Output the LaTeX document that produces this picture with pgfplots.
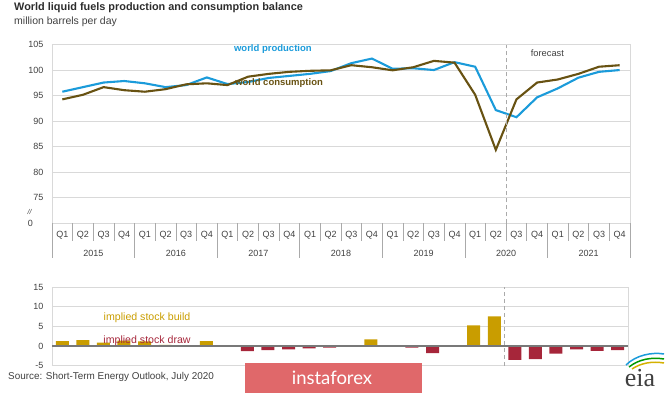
\documentclass[border=0pt]{standalone}
\usepackage{pgfplots}
\pgfplotsset{compat=1.18}
\usepackage{pgfplotstable}
\usepackage{fontspec}
\setmainfont{Liberation Sans}
\newfontfamily\eiafont{Liberation Serif}
\newfontfamily\latofont{Lato}
\definecolor{prodblue}{RGB}{27,155,218}
\definecolor{consbrown}{RGB}{104,82,18}
\definecolor{buildgold}{RGB}{201,157,0}
\definecolor{drawred}{RGB}{166,38,58}
\definecolor{gridgray}{RGB}{217,217,217}
\definecolor{sepgray}{RGB}{170,170,170}
\definecolor{textgray}{RGB}{64,64,64}
\definecolor{titlegray}{RGB}{45,45,45}
\definecolor{zerogray}{RGB}{120,120,120}
\definecolor{instared}{RGB}{224,104,106}

\pgfplotstableread{
x    prod   cons   build draw
0.5  95.8   94.3   1.3   0
1.5  96.7   95.2   1.5   0
2.5  97.6   96.7   0.9   0
3.5  97.9   96.1   1.4   0
4.5  97.45  95.8   1.2   0
5.5  96.7   96.3   0.3   0
6.5  97.1   97.25  0     -0.1
7.5  98.6   97.45  1.3   0
8.5  97.3   97.1   0     -0.1
9.5  97.7   98.75  0     -1.3
10.5 98.5   99.3   0     -1.0
11.5 98.9   99.7   0     -0.85
12.5 99.3   99.9   0     -0.6
13.5 99.85  100.0  0     -0.4
14.5 101.4  101.0  0.2   0
15.5 102.3  100.6  1.7   0
16.5 100.3  100.0  0     -0.05
17.5 100.4  100.6  0     -0.4
18.5 100.05 101.85 0     -1.8
19.5 101.6  101.5  0     0
20.5 100.7  95.2   5.3   0
21.5 92.2   84.4   7.6   0
22.5 90.8   94.3   0     -3.5
23.5 94.7   97.6   0     -3.3
24.5 96.45  98.2   0     -1.9
25.5 98.55  99.3   0     -0.85
26.5 99.7   100.7  0     -1.2
27.5 100.05 101.0  0     -1.0
}\datatable

\begin{document}
\begin{tikzpicture}[x=1pt,y=1pt]
\useasboundingbox (0,0) rectangle (665,394);
\node[anchor=west, font=\bfseries\fontsize{10.9}{12}\selectfont, text=titlegray, inner sep=0] at (14,386) {World liquid fuels production and consumption balance};
\node[anchor=west, font=\fontsize{10.5}{12}\selectfont, text=textgray, inner sep=0] at (14,372) {million barrels per day};

\begin{axis}[at={(52pt,170.7pt)}, anchor=south west, scale only axis,
  width=578pt, height=178.5pt,
  xmin=0, xmax=28, ymin=70, ymax=105,
  ytick={75,80,...,105},
  xtick={0.5,1.5,...,27.5},
  xticklabels={Q1,Q2,Q3,Q4,Q1,Q2,Q3,Q4,Q1,Q2,Q3,Q4,Q1,Q2,Q3,Q4,Q1,Q2,Q3,Q4,Q1,Q2,Q3,Q4,Q1,Q2,Q3,Q4},
  xtick style={draw=none}, ytick style={draw=none},
  ymajorgrids, grid style={gridgray, line width=0.8pt},
  axis line style={gridgray, line width=0.8pt},
  tick label style={font=\fontsize{9}{10}\selectfont, text=textgray},
  /pgf/number format/assume math mode=true,
  xticklabel style={anchor=center, yshift=-11.7pt},
  yticklabel style={xshift=-5pt},
  clip=false]
\addplot[prodblue, line width=2.1pt] table[x=x,y=prod] {\datatable};
\addplot[consbrown, line width=2.1pt] table[x=x,y=cons] {\datatable};
\pgfplotsinvokeforeach{1,2,3,5,6,7,9,10,11,13,14,15,17,18,19,21,22,23,25,26,27}{
  \draw[sepgray, line width=0.7pt] (axis cs:#1,70) -- ++(0pt,-17.5pt);
}
\pgfplotsinvokeforeach{0,4,8,12,16,20,24,28}{
  \draw[sepgray, line width=0.7pt] (axis cs:#1,70) -- ++(0pt,-35pt);
}
\node[font=\fontsize{9}{10}\selectfont, text=textgray, yshift=-30pt] at (axis cs:2,70) {2015};
\node[font=\fontsize{9}{10}\selectfont, text=textgray, yshift=-30pt] at (axis cs:6,70) {2016};
\node[font=\fontsize{9}{10}\selectfont, text=textgray, yshift=-30pt] at (axis cs:10,70) {2017};
\node[font=\fontsize{9}{10}\selectfont, text=textgray, yshift=-30pt] at (axis cs:14,70) {2018};
\node[font=\fontsize{9}{10}\selectfont, text=textgray, yshift=-30pt] at (axis cs:18,70) {2019};
\node[font=\fontsize{9}{10}\selectfont, text=textgray, yshift=-30pt] at (axis cs:22,70) {2020};
\node[font=\fontsize{9}{10}\selectfont, text=textgray, yshift=-30pt] at (axis cs:26,70) {2021};
\draw[sepgray, line width=0.8pt, dash pattern=on 4pt off 3pt] (axis cs:22,70) -- (axis cs:22,105);
\node[font=\fontsize{9.3}{10}\selectfont, text=textgray] at (axis cs:24,103.4) {forecast};
\node[font=\bfseries\fontsize{9.5}{10}\selectfont, text=prodblue] at (axis cs:10.7,104.2) {world production};
\node[font=\bfseries\fontsize{9.5}{10}\selectfont, text=consbrown] at (axis cs:11.0,97.45) {world consumption};
\end{axis}
\node[font=\fontsize{9}{10}\selectfont, text=textgray] at (30.5,170.7) {0};
\node[font=\itshape\fontsize{7}{8}\selectfont, text=textgray] at (29.5,182.3) {//};

\begin{axis}[at={(52pt,28.3pt)}, anchor=south west, scale only axis,
  width=576pt, height=78.4pt,
  xmin=0, xmax=28, ymin=-5, ymax=15,
  ytick={-5,0,...,15}, xtick=\empty,
  ytick style={draw=none},
  ymajorgrids, grid style={gridgray, line width=0.8pt},
  axis line style={gridgray, line width=0.8pt},
  tick label style={font=\fontsize{9}{10}\selectfont, text=textgray},
  /pgf/number format/assume math mode=true,
  yticklabel style={xshift=-5pt},
  clip=false]
\addplot[ybar, bar width=13pt, bar shift=0pt, fill=buildgold, draw=none] table[x=x,y=build] {\datatable};
\addplot[ybar, bar width=13pt, bar shift=0pt, fill=drawred, draw=none] table[x=x,y=draw] {\datatable};
\draw[zerogray, line width=1.2pt] (axis cs:0,0) -- (axis cs:28,0);
\draw[sepgray, line width=0.8pt, dash pattern=on 4pt off 3pt] (axis cs:22,-5) -- (axis cs:22,15);
\node[font=\fontsize{10.6}{11}\selectfont, text=buildgold] at (axis cs:4.62,7.2) {implied stock build};
\node[font=\fontsize{10.6}{11}\selectfont, text=drawred] at (axis cs:4.62,1.45) {implied stock draw};
\end{axis}

\node[anchor=west, font=\fontsize{9.9}{11}\selectfont, text=textgray, inner sep=0] at (8,17) {Source: Short-Term Energy Outlook, July 2020};
\fill[instared] (245,1.3) rectangle (421.7,30.7);
\node[font=\latofont\fontsize{18.5}{20}\selectfont, text=white] at (332,16) {instaforex};
\node[font=\eiafont\fontsize{26}{28}\selectfont, text=textgray, inner sep=0] at (640,16) {eia};
\draw[prodblue, line width=1.5pt] (626,29) .. controls (636,39) and (652,42) .. (664,40);
\draw[green!60!black, line width=1.5pt] (629,27) .. controls (639,35) and (652,37) .. (664,35);
\draw[buildgold!80!yellow, line width=1.5pt] (632,25) .. controls (641,31) and (652,33) .. (664,31);
\end{tikzpicture}
\end{document}
